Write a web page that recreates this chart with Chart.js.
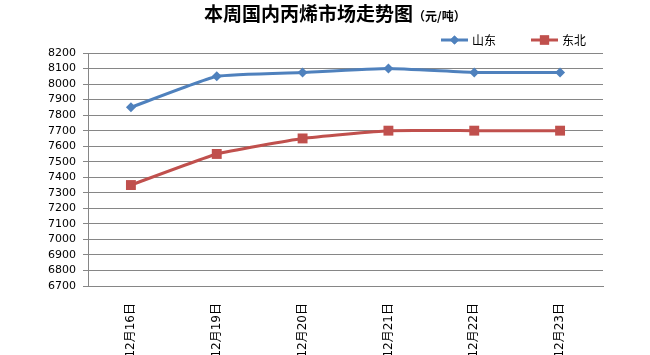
<!DOCTYPE html>
<html>
<head>
<meta charset="utf-8">
<script src="https://cdn.jsdelivr.net/npm/chart.js@4/dist/chart.umd.min.js"></script>
<style>
html,body{margin:0;padding:0;background:#fff;}
#wrap{position:relative;width:650px;height:355px;}
</style>
</head>
<body>
<div id="wrap"><canvas id="c" width="650" height="355"></canvas></div>
<script>
const titleMain = "本周国内丙烯市场走势图";
const titleUnit = "（元/吨）";
const categories = ["12月16日","12月19日","12月20日","12月21日","12月22日","12月23日"];
const seriesNames = ["山东","东北"];
const shandong = [7850, 8050, 8075, 8100, 8075, 8075];
const dongbei = [7350, 7550, 7650, 7700, 7700, 7700];
const yMin = 6700, yMax = 8200, yStep = 100;

const BLUE = "#4F81BD", RED = "#C0504D";
const CJK = '"DejaVu Sans","Noto Sans CJK SC",sans-serif';

const headerPlugin = {
  id: 'header',
  afterDraw(chart) {
    const ctx = chart.ctx;
    ctx.save();
    ctx.fillStyle = "#000";
    ctx.textBaseline = "alphabetic";
    ctx.textAlign = "left";
    ctx.font = 'bold 19px "Noto Sans CJK SC",sans-serif';
    const w1 = ctx.measureText(titleMain).width;
    const x = 204;
    ctx.fillText(titleMain, x, 21);
    ctx.font = 'bold 12px "Noto Sans CJK SC",sans-serif';
    ctx.fillText(titleUnit, x + w1, 21);
    const items = [
      {name: seriesNames[0], color: BLUE, style: 'rectRot', r: 4.5, x0: 441},
      {name: seriesNames[1], color: RED, style: 'rect', r: 6.5, x0: 531}
    ];
    const ly = 40;
    items.forEach(it => {
      ctx.strokeStyle = it.color;
      ctx.lineWidth = 3;
      ctx.beginPath();
      ctx.moveTo(it.x0, ly);
      ctx.lineTo(it.x0 + 27, ly);
      ctx.stroke();
      ctx.fillStyle = it.color;
      Chart.helpers.drawPoint(ctx, {pointStyle: it.style, radius: it.r, borderWidth: 0}, it.x0 + 13.5, ly);
      ctx.fill();
      ctx.fillStyle = "#000";
      ctx.font = '12px "Noto Sans CJK SC",sans-serif';
      ctx.textBaseline = "middle";
      ctx.fillText(it.name, it.x0 + 31, ly);
    });
    ctx.restore();
  }
};

new Chart(document.getElementById('c'), {
  type: 'line',
  data: {
    labels: categories,
    datasets: [
      {label: seriesNames[0], data: shandong, borderColor: BLUE, backgroundColor: BLUE,
       borderWidth: 3, pointStyle: 'rectRot', pointRadius: 5, pointBorderWidth: 0,
       pointBackgroundColor: BLUE, tension: 0.12},
      {label: seriesNames[1], data: dongbei, borderColor: RED, backgroundColor: RED,
       borderWidth: 3, pointStyle: 'rect', pointRadius: 7, pointBorderWidth: 0,
       pointBackgroundColor: RED, tension: 0.12}
    ]
  },
  options: {
    responsive: false,
    animation: false,
    devicePixelRatio: 1,
    layout: {padding: {left: 0, right: 47, top: 53, bottom: 0}},
    plugins: {legend: {display: false}, title: {display: false}, tooltip: {enabled: false}},
    scales: {
      x: {
        offset: true,
        grid: {display: false, drawTicks: false},
        border: {display: true, color: "#868686", width: 1},
        ticks: {autoSkip: false, minRotation: 90, maxRotation: 90, padding: 17, color: "#000",
                font: {size: 12, family: CJK}},
        afterFit(s) { s.height = 69; }
      },
      y: {
        min: yMin, max: yMax,
        grid: {color: "#868686", lineWidth: 1, drawTicks: true, tickLength: 5},
        border: {display: true, color: "#868686", width: 1},
        ticks: {autoSkip: false, stepSize: yStep, padding: 7, color: "#000",
                font: {size: 11, family: '"DejaVu Sans",sans-serif'},
                callback: v => String(v)},
        afterFit(s) { s.width = 88; }
      }
    }
  },
  plugins: [headerPlugin]
});
</script>
</body>
</html>
